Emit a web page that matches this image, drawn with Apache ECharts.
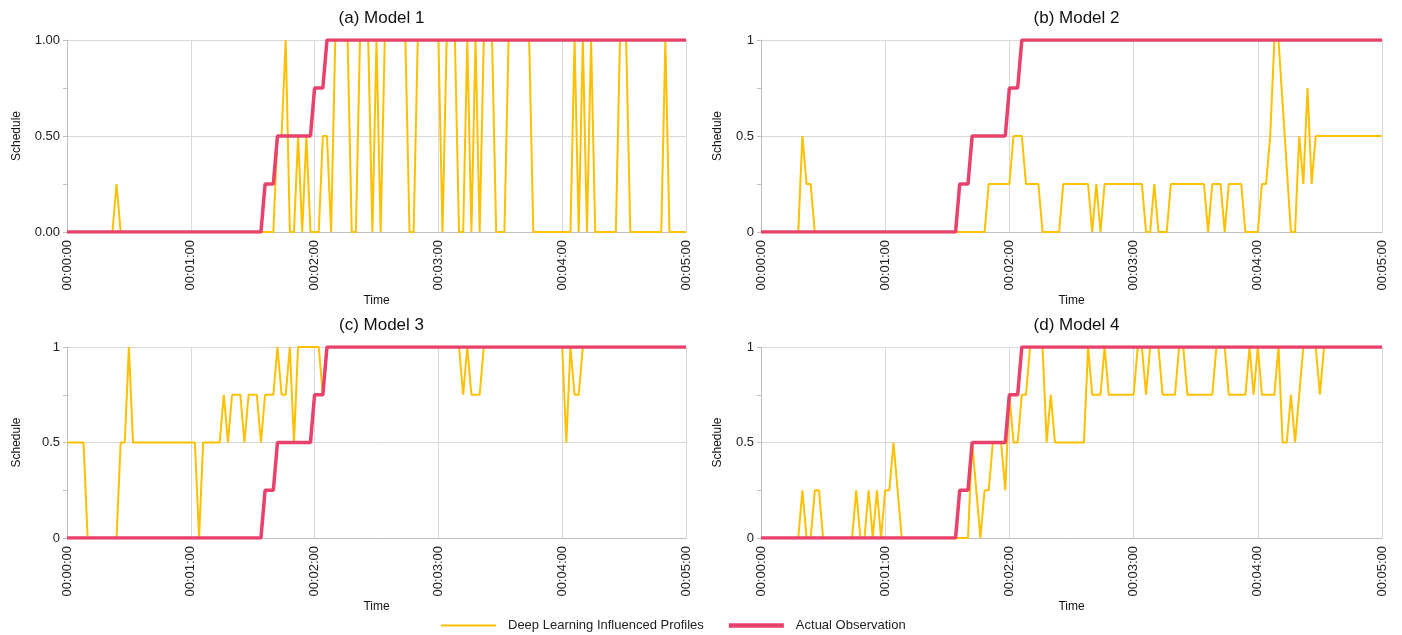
<!DOCTYPE html>
<html>
<head>
<meta charset="utf-8">
<script src="https://cdn.jsdelivr.net/npm/echarts@6/dist/echarts.min.js"></script>
<style>
html,body{margin:0;padding:0;background:#fff;}
#chart{width:1402px;height:635px;}
</style>
</head>
<body>
<div id="chart"></div>
<script>
// Time in seconds, schedule value
const titles = ['(a) Model 1', '(b) Model 2', '(c) Model 3', '(d) Model 4'];
const seriesNames = ['Deep Learning Influenced Profiles', 'Actual Observation'];
const xTicks = [0, 60, 120, 180, 240, 300];

const actual = [[0,0],[94,0],[96,0.25],[100,0.25],[102,0.5],[118,0.5],[120,0.75],[124,0.75],[126,1],[300,1]];

const model1 = [[0,0],[22,0],[24,0.25],[26,0],[100,0],[102,0.5],[104,0.5],[106,1],[108,0],[110,0],[112,0.5],[114,0],[116,0.5],[118,0],[122,0],[124,0.5],[126,0.5],[128,0],[130,1],[136,1],[138,0],[140,0],[142,1],[146,1],[148,0],[150,1],[152,0],[154,1],[164,1],[166,0],[168,0],[170,1],[180,1],[182,0],[184,1],[188,1],[190,0],[192,0],[194,1],[196,0],[198,1],[200,0],[202,1],[206,1],[208,0],[212,0],[214,1],[224,1],[226,0],[244,0],[246,1],[248,0],[250,1],[252,0],[254,1],[256,0],[266,0],[268,1],[271,1],[273,0],[288,0],[290,1],[292,0],[300,0]];

const model2 = [[0,0],[18,0],[20,0.5],[22,0.25],[24,0.25],[26,0],[108,0],[110,0.25],[120,0.25],[122,0.5],[126,0.5],[128,0.25],[134,0.25],[136,0],[144,0],[146,0.25],[158,0.25],[160,0],[162,0.25],[164,0],[166,0.25],[184,0.25],[186,0],[188,0],[190,0.25],[192,0],[196,0],[198,0.25],[214,0.25],[216,0],[218,0.25],[222,0.25],[224,0],[226,0.25],[232,0.25],[234,0],[240,0],[242,0.25],[244,0.25],[246,0.5],[248,1],[250,1],[256,0],[258,0],[260,0.5],[262,0.25],[264,0.75],[266,0.25],[268,0.5],[300,0.5]];

const model3 = [[0,0.5],[8,0.5],[10,0],[24,0],[26,0.5],[28,0.5],[30,1],[32,0.5],[62,0.5],[64,0],[66,0.5],[74,0.5],[76,0.75],[78,0.5],[80,0.75],[84,0.75],[86,0.5],[88,0.75],[92,0.75],[94,0.5],[96,0.75],[100,0.75],[102,1],[104,0.75],[106,0.75],[108,1],[110,0.5],[112,1],[122,1],[124,0.75],[126,1],[190,1],[192,0.75],[194,1],[196,0.75],[200,0.75],[202,1],[240,1],[242,0.5],[244,1],[246,0.75],[248,0.75],[250,1],[300,1]];

const model4 = [[0,0],[18,0],[20,0.25],[22,0],[24,0],[26,0.25],[28,0.25],[30,0],[44,0],[46,0.25],[48,0],[50,0],[52,0.25],[54,0],[56,0.25],[58,0],[60,0.25],[62,0.25],[64,0.5],[68,0],[100,0],[102,0.5],[106,0],[108,0.25],[110,0.25],[112,0.5],[116,0.5],[118,0.25],[120,0.75],[122,0.5],[124,0.5],[126,0.75],[128,0.75],[130,1],[136,1],[138,0.5],[140,0.75],[142,0.5],[156,0.5],[158,1],[160,0.75],[164,0.75],[166,1],[168,0.75],[180,0.75],[182,1],[184,1],[186,0.75],[188,1],[192,1],[194,0.75],[200,0.75],[202,1],[204,1],[206,0.75],[218,0.75],[220,1],[224,1],[226,0.75],[234,0.75],[236,1],[238,0.75],[240,1],[242,0.75],[248,0.75],[250,1],[252,0.5],[254,0.5],[256,0.75],[258,0.5],[262,1],[268,1],[270,0.75],[272,1],[300,1]];

const models = [model1, model2, model3, model4];

const FONT = 'Liberation Sans, Arial, Helvetica, sans-serif';
const YELLOW = '#FFC000';
const PINK = '#E8416B';

const grids = [
  {left: 67, width: 619, top: 40, height: 192},
  {left: 761, width: 621, top: 40, height: 192},
  {left: 67, width: 619, top: 347, height: 191},
  {left: 761, width: 621, top: 347, height: 191}
];

function fmtTime(v) {
  const m = Math.round(v / 60);
  return '00:0' + m + ':00';
}

const option = {
  animation: false,
  backgroundColor: '#fff',
  textStyle: {fontFamily: FONT},
  title: titles.map((t, i) => ({
    text: t,
    left: grids[i].left + grids[i].width / 2,
    textAlign: 'center',
    top: i < 2 ? 5 : 312,
    textStyle: {fontFamily: FONT, fontSize: 17, fontWeight: 'normal', color: '#111'}
  })),
  legend: {
    top: 614,
    left: 436,
    itemWidth: 55,
    itemHeight: 12,
    itemGap: 25,
    textStyle: {fontFamily: FONT, fontSize: 13, color: '#222', padding: [0, 0, 0, 7]},
    data: [
      {name: seriesNames[0], icon: 'path://M0,5.5 L55,5.5 L55,7.5 L0,7.5 Z'},
      {name: seriesNames[1], icon: 'path://M0,4.3 L55,4.3 L55,8.7 L0,8.7 Z'}
    ]
  },
  grid: grids.map(g => Object.assign({}, g, {containLabel: false})),
  xAxis: grids.map((g, i) => ({
    type: 'value',
    gridIndex: i,
    min: 0,
    max: 300,
    interval: 60,
    name: 'Time',
    nameLocation: 'middle',
    nameGap: 52,
    nameTextStyle: {fontFamily: FONT, fontSize: 12, color: '#111', verticalAlign: 'top'},
    axisLine: {show: true, lineStyle: {color: '#bfbfbf', width: 1}},
    axisTick: {show: false},
    splitLine: {show: true, lineStyle: {color: '#d9d9d9', width: 1}},
    axisLabel: {
      rotate: 90,
      margin: 8,
      fontFamily: FONT,
      fontSize: 13,
      color: '#222',
      formatter: fmtTime
    }
  })),
  yAxis: grids.map((g, i) => ({
    type: 'value',
    gridIndex: i,
    min: 0,
    max: 1,
    interval: 0.5,
    name: 'Schedule',
    nameLocation: 'middle',
    nameGap: i % 2 === 0 ? 44 : 37,
    nameTextStyle: {fontFamily: FONT, fontSize: 12, color: '#111'},
    axisLine: {show: true, lineStyle: {color: '#bfbfbf', width: 1}},
    axisTick: {show: true, length: 4, lineStyle: {color: '#bfbfbf'}},
    minorTick: {show: true, splitNumber: 2, length: 4, lineStyle: {color: '#bfbfbf'}},
    minorSplitLine: {show: false},
    splitLine: {show: true, lineStyle: {color: '#d9d9d9', width: 1}},
    axisLabel: {
      margin: 7,
      fontFamily: FONT,
      fontSize: 13,
      color: '#222',
      formatter: i === 0 ? (v => v.toFixed(2)) : (v => String(v))
    }
  })),
  series: []
};

models.forEach((m, i) => {
  option.series.push({
    name: seriesNames[0],
    type: 'line',
    xAxisIndex: i,
    yAxisIndex: i,
    data: m,
    symbol: 'none',
    lineStyle: {color: YELLOW, width: 2},
    itemStyle: {color: YELLOW},
    z: 2
  });
});
models.forEach((m, i) => {
  option.series.push({
    name: seriesNames[1],
    type: 'line',
    xAxisIndex: i,
    yAxisIndex: i,
    data: actual,
    symbol: 'none',
    lineStyle: {color: PINK, width: 3.5},
    itemStyle: {color: PINK},
    z: 3
  });
});

const chart = echarts.init(document.getElementById('chart'), null, {renderer: 'canvas'});
chart.setOption(option);
</script>
</body>
</html>
